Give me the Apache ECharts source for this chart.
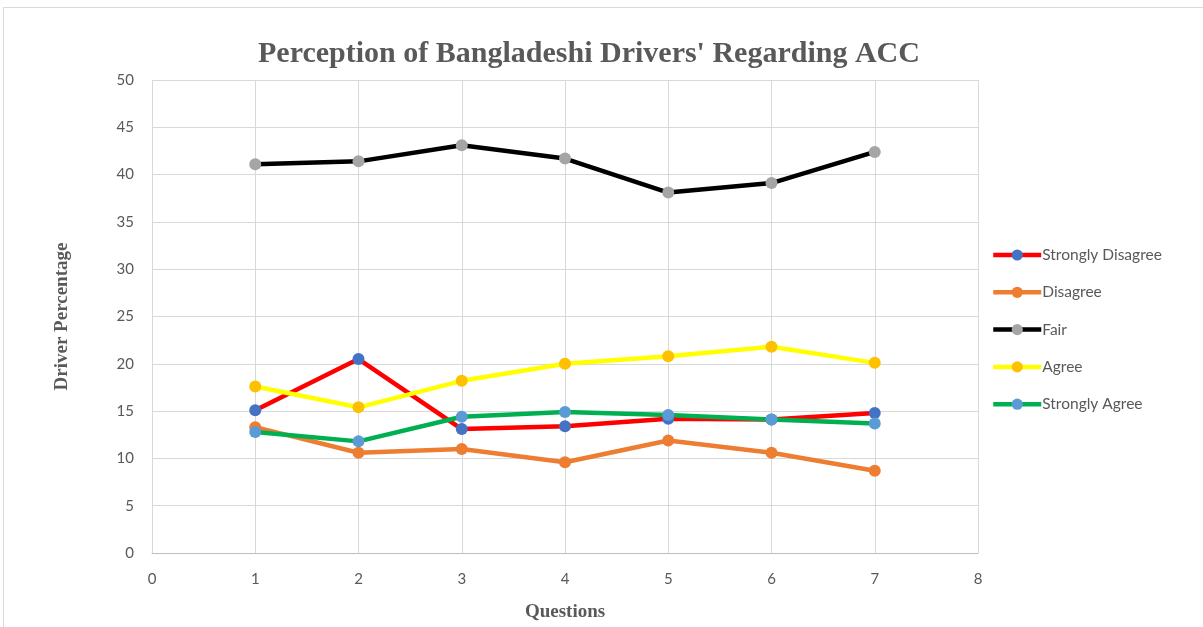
<!DOCTYPE html>
<html><head><meta charset="utf-8">
<script src="https://cdn.jsdelivr.net/npm/echarts@6/dist/echarts.min.js"></script>
<style>html,body{margin:0;padding:0;background:#fff}#c{width:1203px;height:627px}</style>
</head><body><div id="c"></div>
<script>
const questions = [1, 2, 3, 4, 5, 6, 7];
const seriesNames = ['Strongly Disagree', 'Disagree', 'Fair', 'Agree', 'Strongly Agree'];
const stronglyDisagree = [15.1, 20.5, 13.1, 13.4, 14.2, 14.1, 14.8];
const disagree = [13.3, 10.6, 11.0, 9.6, 11.9, 10.6, 8.7];
const fair = [41.1, 41.4, 43.1, 41.7, 38.1, 39.1, 42.4];
const agree = [17.6, 15.4, 18.2, 20.0, 20.8, 21.8, 20.1];
const stronglyAgree = [12.8, 11.8, 14.4, 14.9, 14.6, 14.1, 13.7];
const yTicks = [0, 5, 10, 15, 20, 25, 30, 35, 40, 45, 50];
const xTicks = [0, 1, 2, 3, 4, 5, 6, 7, 8];

const lineColors = ['#ff0000', '#ed7d31', '#000000', '#ffff00', '#00b050'];
const markerColors = ['#4472c4', '#ed7d31', '#a5a5a5', '#ffc000', '#5b9bd5'];
const allData = [stronglyDisagree, disagree, fair, agree, stronglyAgree];

const chart = echarts.init(document.getElementById('c'));
chart.setOption({
  animation: false,
  backgroundColor: '#fff',
  graphic: [{type: 'rect', shape: {x: 3.5, y: 7.5, width: 1210, height: 640}, style: {fill: 'none', stroke: '#d9d9d9', lineWidth: 1}, silent: true}],
  title: {
    text: "Perception of Bangladeshi Drivers' Regarding ACC",
    left: 584, top: 34, textAlign: 'center',
    textStyle: {fontFamily: 'Liberation Serif', fontWeight: 'bold', fontSize: 30, color: '#595959'}
  },
  grid: {left: 152, top: 80, width: 826, height: 474, containLabel: false},
  legend: {
    orient: 'vertical', left: 986, top: 242,
    itemWidth: 48, itemHeight: 14, itemGap: 21.3,
    data: seriesNames,
    lineStyle: {width: 4.5},
    textStyle: {fontFamily: 'Lato', fontSize: 15.5, color: '#595959', padding: [0, 0, 0, -4]}
  },
  xAxis: {
    type: 'value', min: 0, max: 8, interval: 1,
    name: 'Questions', nameLocation: 'middle', nameGap: 50,
    nameTextStyle: {fontFamily: 'Liberation Serif', fontWeight: 'bold', fontSize: 19, color: '#595959'},
    axisLine: {show: true, lineStyle: {color: '#bfbfbf'}},
    axisTick: {show: false},
    axisLabel: {margin: 19, fontFamily: 'Lato', fontSize: 15, color: '#595959', formatter: v => xTicks.includes(v) ? String(v) : ''},
    splitLine: {show: true, lineStyle: {color: '#d9d9d9'}}
  },
  yAxis: {
    type: 'value', min: 0, max: 50, interval: 5,
    name: 'Driver Percentage', nameLocation: 'middle', nameGap: 80,
    nameTextStyle: {fontFamily: 'Liberation Serif', fontWeight: 'bold', fontSize: 19, color: '#595959'},
    axisLine: {show: false},
    axisTick: {show: false},
    axisLabel: {margin: 18, fontFamily: 'Lato', fontSize: 15, color: '#595959', formatter: v => yTicks.includes(v) ? String(v) : ''},
    splitLine: {show: true, lineStyle: {color: '#d9d9d9'}}
  },
  series: seriesNames.map((n, i) => ({
    name: n, type: 'line',
    data: questions.map((q, j) => [q, allData[i][j]]),
    symbol: 'circle', symbolSize: 12,
    lineStyle: {color: lineColors[i], width: 4.5},
    itemStyle: {color: markerColors[i]},
    z: 2 + (i === 4 ? 1 : 0)
  }))
});
</script></body></html>
